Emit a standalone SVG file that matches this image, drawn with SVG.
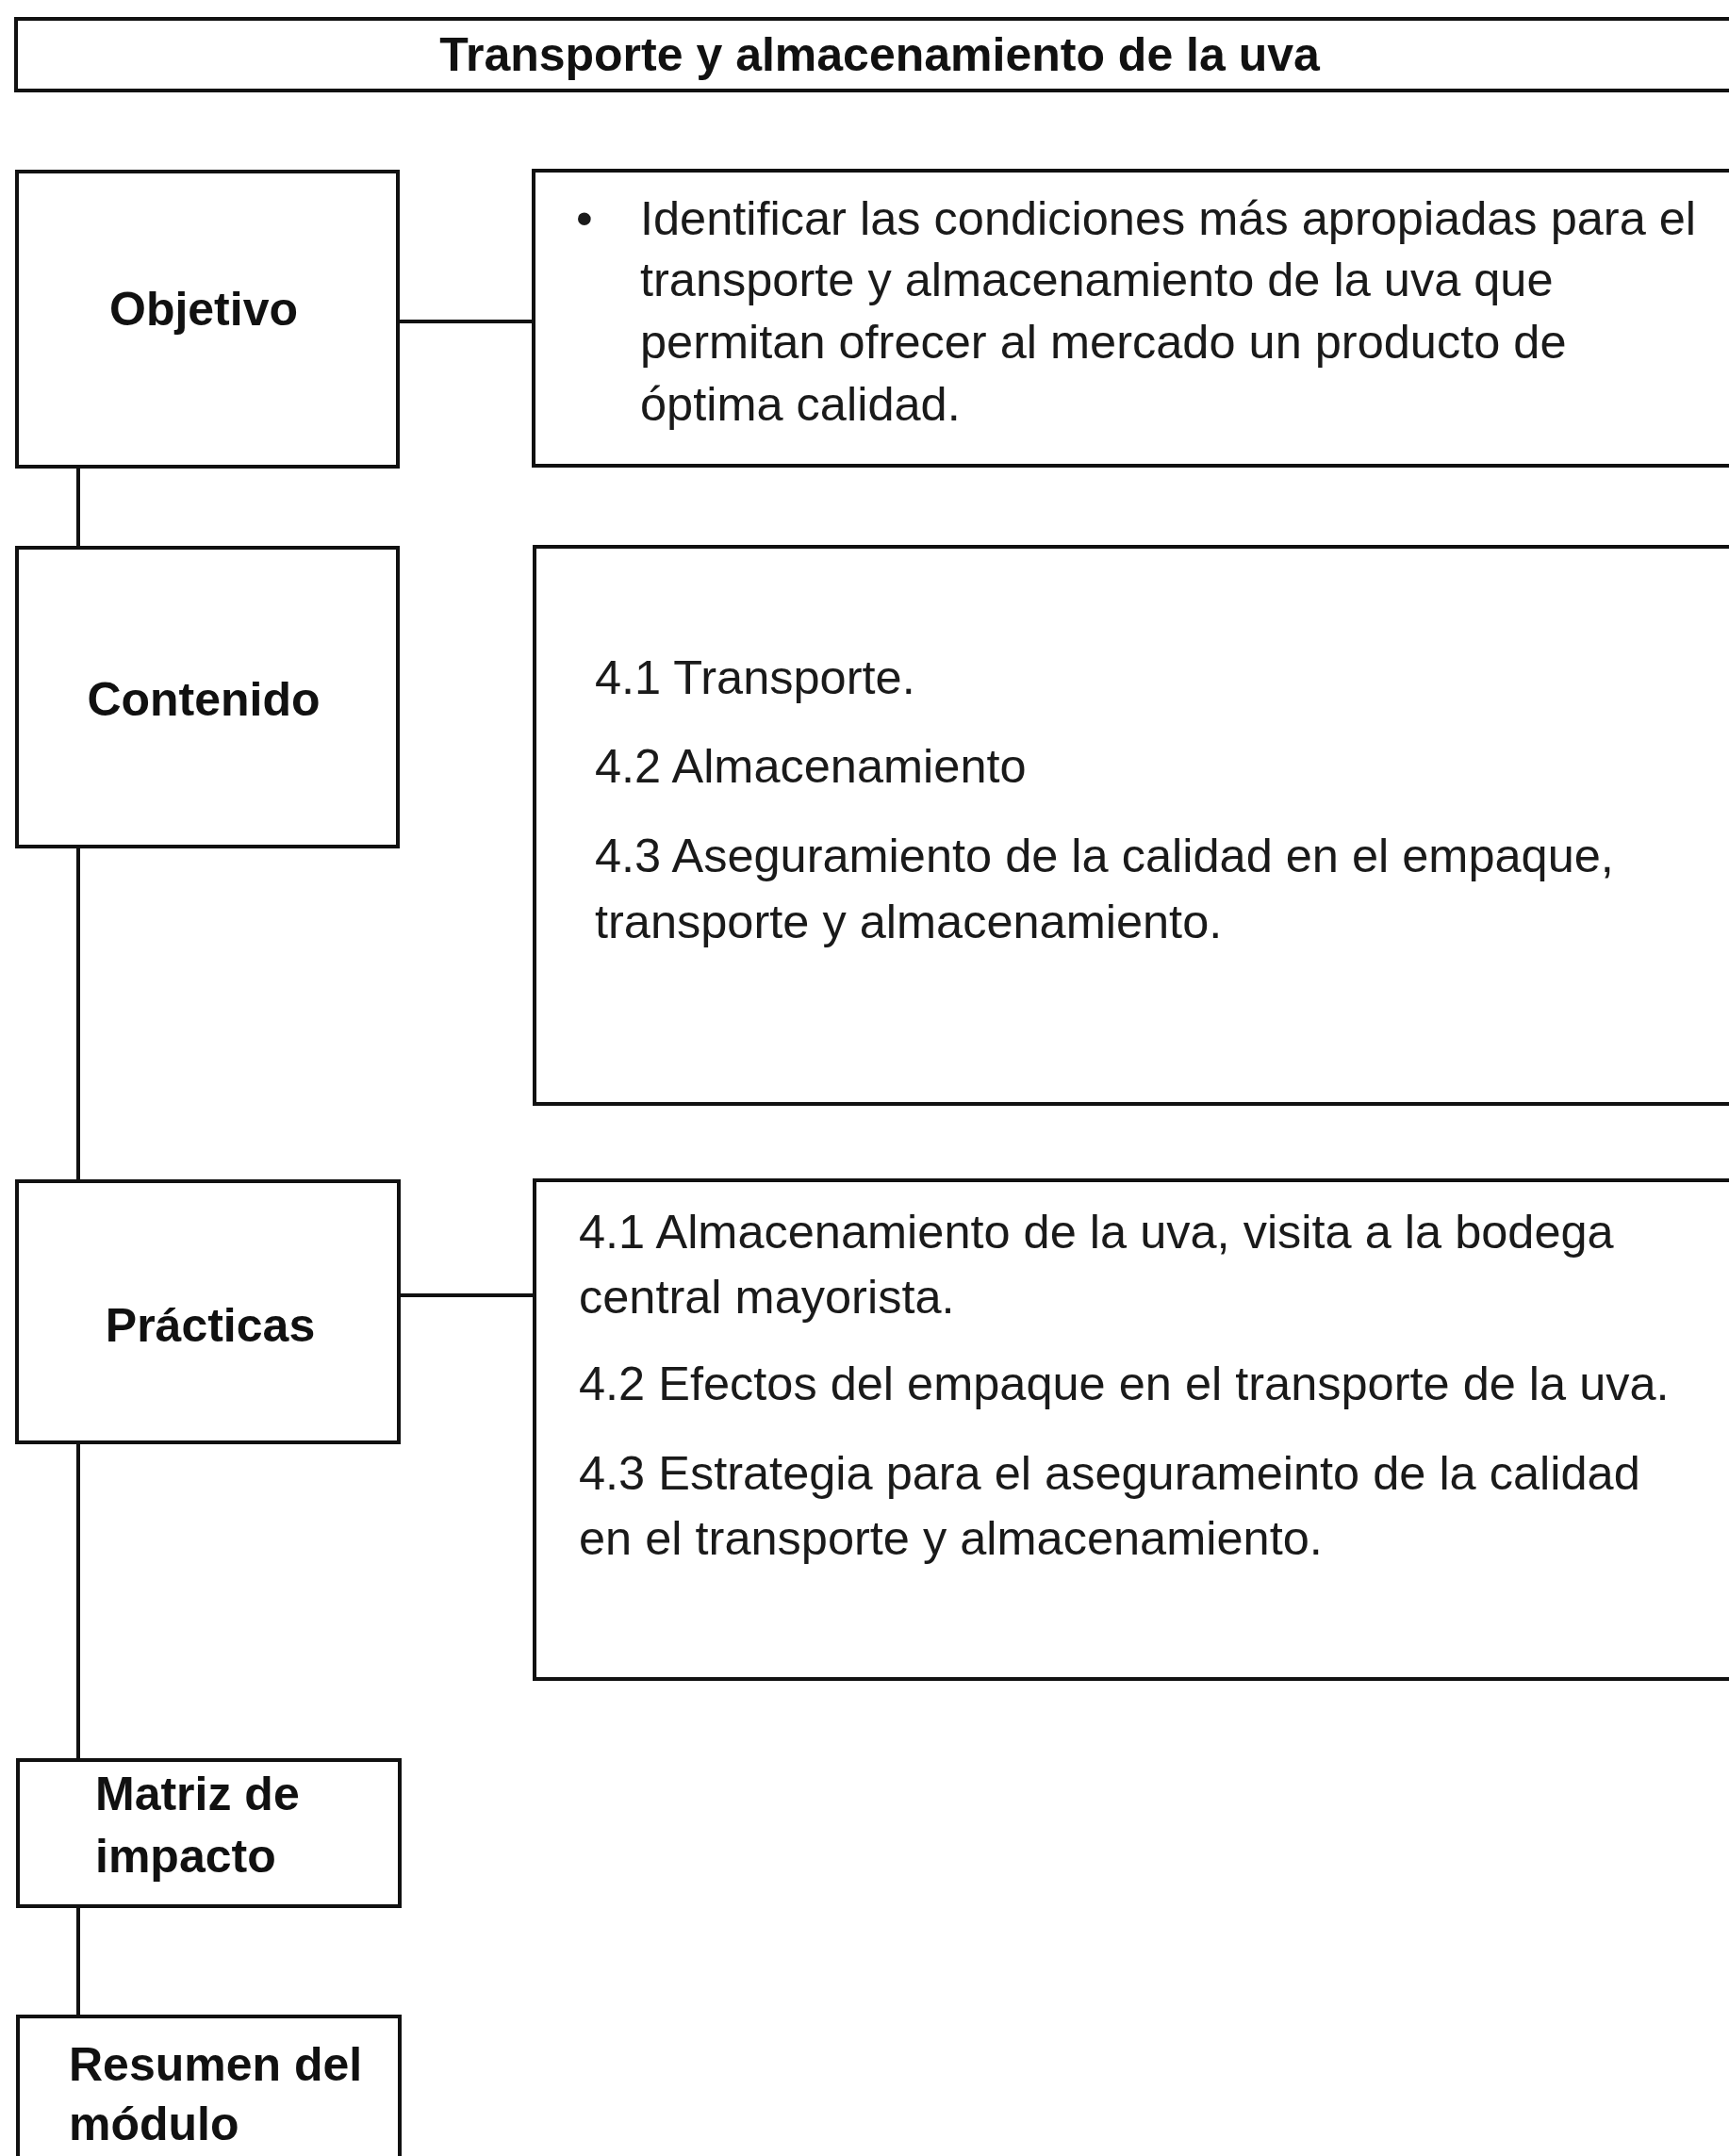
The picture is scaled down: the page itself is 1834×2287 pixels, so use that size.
<svg xmlns="http://www.w3.org/2000/svg" width="1834" height="2287" viewBox="0 0 1834 2287">
<style>
.box{fill:#ffffff;stroke:#111111;stroke-width:4}
.line{fill:none;stroke:#111111;stroke-width:4}
.h{font-family:"Liberation Sans",Arial,sans-serif;font-weight:bold;font-size:50px;fill:#111111}
.t{font-family:"Liberation Sans",Arial,sans-serif;font-size:50.5px;fill:#1a1a1a}
</style>
<rect width="1834" height="2287" fill="#ffffff"/>
<g id="connectors">
<line class="line" x1="83" y1="495" x2="83" y2="581"/>
<line class="line" x1="83" y1="898" x2="83" y2="1253"/>
<line class="line" x1="83" y1="1530" x2="83" y2="1867"/>
<line class="line" x1="83" y1="2022" x2="83" y2="2139"/>
<line class="line" x1="422" y1="341" x2="566" y2="341"/>
<line class="line" x1="423" y1="1374" x2="567" y2="1374"/>
</g>
<g id="title">
<rect class="box" x="17" y="20" width="1840" height="76"/>
<text class="h" x="933" y="75" text-anchor="middle">Transporte y almacenamiento de la uva</text>
</g>
<g id="objetivo">
<rect class="box" x="18" y="182" width="404" height="313"/>
<text class="h" x="216" y="345" text-anchor="middle">Objetivo</text>
</g>
<g id="objetivo-detalle">
<rect class="box" x="566" y="181" width="1290" height="313"/>
<text class="t" x="611" y="249">•</text>
<text class="t" x="679" y="249">Identificar las condiciones más apropiadas para el</text>
<text class="t" x="679" y="314">transporte y almacenamiento de la uva que</text>
<text class="t" x="679" y="380">permitan ofrecer al mercado un producto de</text>
<text class="t" x="679" y="446">óptima calidad.</text>
</g>
<g id="contenido">
<rect class="box" x="18" y="581" width="404" height="317"/>
<text class="h" x="216" y="759" text-anchor="middle">Contenido</text>
</g>
<g id="contenido-detalle">
<rect class="box" x="567" y="580" width="1290" height="591"/>
<text class="t" x="631" y="736">4.1 Transporte.</text>
<text class="t" x="631" y="830">4.2 Almacenamiento</text>
<text class="t" x="631" y="925">4.3 Aseguramiento de la calidad en el empaque,</text>
<text class="t" x="631" y="995">transporte y almacenamiento.</text>
</g>
<g id="practicas">
<rect class="box" x="18" y="1253" width="405" height="277"/>
<text class="h" x="223" y="1423" text-anchor="middle">Prácticas</text>
</g>
<g id="practicas-detalle">
<rect class="box" x="567" y="1252" width="1290" height="529"/>
<text class="t" x="614" y="1324">4.1 Almacenamiento de la uva, visita a la bodega</text>
<text class="t" x="614" y="1393">central mayorista.</text>
<text class="t" x="614" y="1485">4.2 Efectos del empaque en el transporte de la uva.</text>
<text class="t" x="614" y="1580">4.3 Estrategia para el asegurameinto de la calidad</text>
<text class="t" x="614" y="1649">en el transporte y almacenamiento.</text>
</g>
<g id="matriz">
<rect class="box" x="19" y="1867" width="405" height="155"/>
<text class="h" x="101" y="1920">Matriz de</text>
<text class="h" x="101" y="1986">impacto</text>
</g>
<g id="resumen">
<rect class="box" x="19" y="2139" width="405" height="200"/>
<text class="h" x="73" y="2207">Resumen del</text>
<text class="h" x="73" y="2270">módulo</text>
</g>
</svg>
